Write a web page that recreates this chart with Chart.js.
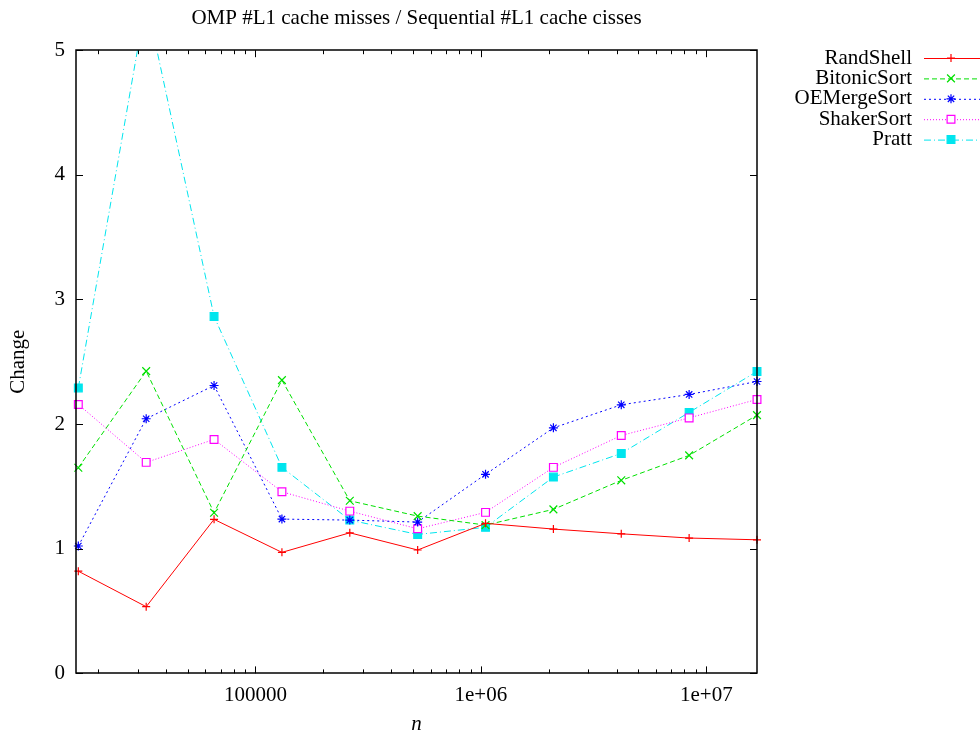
<!DOCTYPE html>
<html>
<head>
<meta charset="utf-8">
<title>OMP #L1 cache misses</title>
<script src="https://cdn.jsdelivr.net/npm/chart.js@4.4.1/dist/chart.umd.min.js"></script>
<style>
  html, body { margin: 0; padding: 0; background: #fff; }
  #wrap { width: 980px; height: 734px; position: relative; }
</style>
</head>
<body>
<div id="wrap"><canvas id="chart"></canvas></div>
<script>
'use strict';

// problem sizes (x) and ratio of L1 misses, OMP vs sequential (y)
const nValues = [16384, 32768, 65536, 131072, 262144, 524288, 1048576, 2097152, 4194304, 8388608, 16777216];
const randShell   = [0.82, 0.535, 1.236, 0.971, 1.128, 0.99, 1.204, 1.158, 1.12, 1.086, 1.072];
const bitonicSort = [1.65, 2.425, 1.289, 2.353, 1.385, 1.262, 1.19, 1.316, 1.549, 1.749, 2.072];
const oeMergeSort = [1.022, 2.043, 2.31, 1.238, 1.23, 1.214, 1.597, 1.97, 2.155, 2.238, 2.342];
const shakerSort  = [2.158, 1.693, 1.877, 1.457, 1.302, 1.16, 1.292, 1.653, 1.909, 2.05, 2.198];
const pratt       = [2.29, 5.4, 2.864, 1.653, 1.23, 1.115, 1.172, 1.575, 1.765, 2.094, 2.423];

const seriesNames = ['RandShell', 'BitonicSort', 'OEMergeSort', 'ShakerSort', 'Pratt'];
const xTickValues = [1e5, 1e6, 1e7];
const yTickValues = [0, 1, 2, 3, 4, 5];

const FONT = '"Liberation Serif", "Times New Roman", serif';
const FONT_SIZE = 21;

// gnuplot-ish line types
const styles = [
    { color: '#ff0000', dash: [],           point: 'cross',    radius: 4,   fill: '#ff0000' },
    { color: '#00e000', dash: [5, 3],       point: 'crossRot', radius: 5.5, fill: '#00e000' },
    { color: '#0000ff', dash: [2, 3],       point: 'star',     radius: 4.5, fill: '#0000ff' },
    { color: '#ff00ff', dash: [1, 2],       point: 'rect',     radius: 5.5, fill: '#ffffff' },
    { color: '#00e5ee', dash: [7, 3, 1, 3], point: 'rect',     radius: 5.5, fill: '#00e5ee' }
];
const seriesValues = [randShell, bitonicSort, oeMergeSort, shakerSort, pratt];

const datasets = seriesValues.map((vals, i) => ({
    label: seriesNames[i],
    data: vals.map((v, k) => ({ x: nValues[k], y: v })),
    borderColor: styles[i].color,
    backgroundColor: styles[i].fill,
    borderWidth: 1,
    borderDash: styles[i].dash,
    pointStyle: styles[i].point,
    pointRadius: styles[i].radius,
    pointBorderColor: styles[i].color,
    pointBackgroundColor: styles[i].fill,
    pointBorderWidth: 1.2,
    tension: 0,
    clip: { left: 8, right: 8, top: 0, bottom: 8 }
}));

// 1e+06 style labels like gnuplot's %g
function fmtLog(v) {
    if (v < 1e6) return String(v);
    return v.toExponential().replace(/e\+(\d)$/, 'e+0$1');
}

// minor ticks: 2..9 in every decade that falls inside the axis
function minorTicks(min, max) {
    const out = [];
    for (let d = Math.pow(10, Math.floor(Math.log10(min))); d <= max; d *= 10) {
        for (let m = 2; m <= 9; m++) {
            const v = d * m;
            if (v > min && v < max) out.push(v);
        }
    }
    return out;
}

// frame, inward ticks on all four sides, and the key at top right
const gnuplotFrame = {
    id: 'gnuplotFrame',
    afterDraw(chart) {
        const ctx = chart.ctx;
        const a = chart.chartArea;
        const xs = chart.scales.x;
        const ys = chart.scales.y;
        ctx.save();
        ctx.strokeStyle = '#000';
        ctx.setLineDash([]);
        ctx.lineWidth = 1;

        ctx.beginPath();
        const tick = (x1, y1, x2, y2) => { ctx.moveTo(x1, y1); ctx.lineTo(x2, y2); };
        yTickValues.forEach(v => {
            const y = Math.round(ys.getPixelForValue(v)) + 0.5;
            tick(a.left, y, a.left + 7, y);
            tick(a.right, y, a.right - 7, y);
        });
        xTickValues.forEach(v => {
            const x = Math.round(xs.getPixelForValue(v)) + 0.5;
            tick(x, a.bottom, x, a.bottom - 7);
            tick(x, a.top, x, a.top + 7);
        });
        minorTicks(xs.min, xs.max).forEach(v => {
            const x = Math.round(xs.getPixelForValue(v)) + 0.5;
            tick(x, a.bottom, x, a.bottom - 4);
            tick(x, a.top, x, a.top + 4);
        });
        ctx.stroke();

        ctx.lineWidth = 1.5;
        ctx.strokeRect(Math.round(a.left), Math.round(a.top),
            Math.round(a.right - a.left), Math.round(a.bottom - a.top));

        // key
        ctx.font = FONT_SIZE + 'px ' + FONT;
        ctx.textAlign = 'right';
        ctx.textBaseline = 'middle';
        chart.data.datasets.forEach((ds, i) => {
            const y = 58 + i * 20.4;
            ctx.fillStyle = '#000';
            ctx.fillText(ds.label, 912, y);
            ctx.strokeStyle = ds.borderColor;
            ctx.lineWidth = 1;
            ctx.setLineDash(ds.borderDash);
            ctx.beginPath();
            ctx.moveTo(924, y + 0.5);
            ctx.lineTo(984, y + 0.5);
            ctx.stroke();
            ctx.setLineDash([]);
            ctx.fillStyle = ds.pointBackgroundColor;
            ctx.strokeStyle = ds.pointBorderColor;
            ctx.lineWidth = ds.pointBorderWidth;
            Chart.helpers.drawPoint(ctx, {
                pointStyle: ds.pointStyle, radius: ds.pointRadius, rotation: 0, borderWidth: ds.pointBorderWidth
            }, 951, y);
        });
        ctx.restore();
    }
};

new Chart(document.getElementById('chart'), {
    type: 'line',
    data: { datasets },
    options: {
        responsive: true,
        maintainAspectRatio: false,
        animation: false,
        layout: { padding: { left: 0, top: 0, right: 223, bottom: 0 } },
        plugins: {
            legend: { display: false },
            tooltip: { enabled: false },
            title: {
                display: true,
                fullSize: false,
                text: 'OMP #L1 cache misses / Sequential #L1 cache cisses',
                color: '#000',
                font: { family: FONT, size: FONT_SIZE, weight: 'normal' },
                padding: { top: 6, bottom: 19 }
            }
        },
        scales: {
            x: {
                type: 'logarithmic',
                min: 16000,
                max: 16777216,
                grid: { display: false, drawTicks: false },
                border: { display: false },
                afterBuildTicks: s => { s.ticks = xTickValues.map(v => ({ value: v })); },
                afterFit: s => { s.height = 60.6; },
                ticks: {
                    color: '#000',
                    font: { family: FONT, size: FONT_SIZE },
                    padding: 9,
                    maxRotation: 0,
                    autoSkip: false,
                    callback: v => fmtLog(v)
                },
                title: {
                    display: true,
                    text: 'n',
                    color: '#000',
                    font: { family: FONT, size: FONT_SIZE, style: 'italic' },
                    padding: { top: 0, bottom: -3 }
                }
            },
            y: {
                min: 0,
                max: 5,
                grid: { display: false, drawTicks: false },
                border: { display: false },
                afterBuildTicks: s => { s.ticks = yTickValues.map(v => ({ value: v })); },
                afterFit: s => { s.width = 76; },
                ticks: {
                    color: '#000',
                    font: { family: FONT, size: FONT_SIZE },
                    padding: 11
                },
                title: {
                    display: true,
                    text: 'Change',
                    color: '#000',
                    font: { family: FONT, size: FONT_SIZE },
                    padding: { top: 6, bottom: 0 }
                }
            }
        }
    },
    plugins: [gnuplotFrame]
});
</script>
</body>
</html>
